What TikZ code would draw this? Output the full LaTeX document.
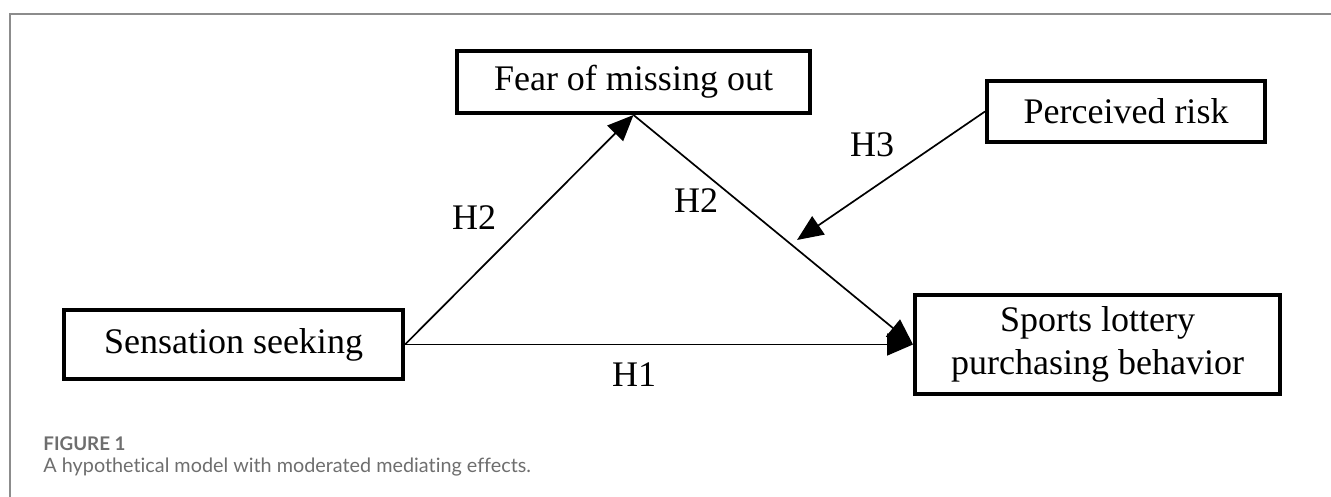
\documentclass[tikz,border=0pt]{standalone}
\usepackage{fontspec}
\setmainfont{Liberation Serif}
\newfontfamily\capfont[Ligatures={NoCommon}]{Lato}
\usetikzlibrary{arrows.meta, positioning}

\definecolor{framegray}{HTML}{8C8C8C}
\definecolor{capgray}{HTML}{6E6E6E}

\begin{document}
\begin{tikzpicture}[
      x=0.5pt, y=-0.5pt,
      construct/.style={rectangle, draw, line width=2pt, inner sep=0pt, align=center, font=\fontsize{18}{21.6}\selectfont},
      hypo/.style={-{Triangle[length=13pt, width=11pt]}, line width=0.85pt},
      hlabel/.style={font=\fontsize{18}{21.6}\selectfont, inner sep=0pt}
      ]
      \useasboundingbox (0,0) rectangle (1331,497);

      % Frame
      \draw[framegray, line width=0.7pt] (10,497) -- (10,14) -- (1331,14);

      % Nodes
      \node[construct, minimum width=176.5pt, minimum height=31pt] (fear) at (633.5,82) {Fear of missing out};
      \node[construct, minimum width=139pt, minimum height=30.5pt] (risk) at (1126,111.5) {Perceived risk};
      \node[construct, minimum width=169.5pt, minimum height=34.5pt] (sens) at (233.5,344.5) {Sensation seeking};
      \node[construct, minimum width=182.5pt, minimum height=49.5pt] (sports) at (1097.5,344.5) {Sports lottery\\purchasing behavior};
      \coordinate (mod) at (797,240);

      % Arrows
      \draw[hypo] (sens.east) -- (fear.south);
      \draw[hypo] (fear.south) -- (sports.west);
      \draw[hypo] (sens.east) -- (sports.west);
      \draw[hypo] (risk.west) -- (mod);

      % Labels
      \node[hlabel] (h2a) at (474,218) {H2};
      \node[hlabel] (h2b) at (696,201) {H2};
      \node[hlabel] (h3) at (872,145) {H3};
      \node[hlabel] (h1) at (634,375) {H1};

      % Caption
      \node[anchor=base west, inner sep=0pt, text=capgray, font=\capfont\bfseries\fontsize{9.4}{11}\selectfont] (fig) at (43,450) {FIGURE 1};
      \node[anchor=base west, inner sep=0pt, text=capgray, font=\capfont\fontsize{9.9}{12}\selectfont] (cap) at (43,472) {A hypothetical model with moderated mediating effects.};
\end{tikzpicture}
\end{document}
